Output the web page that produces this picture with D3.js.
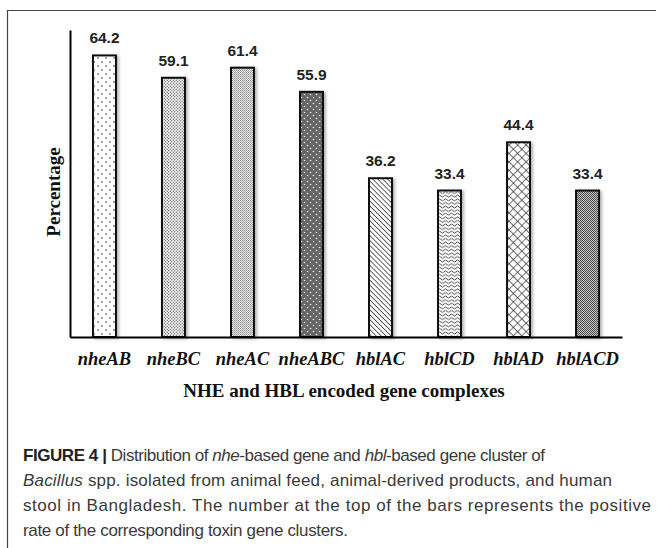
<!DOCTYPE html>
<html>
<head>
<meta charset="utf-8">
<script src="https://cdn.jsdelivr.net/npm/d3@7"></script>
<style>
  body { margin: 0; background: #fff; }
  svg { display: block; }
</style>
</head>
<body>
<div id="chart"></div>
<script>
// gene complexes and their positive rate (%)
const genes = ['nheAB', 'nheBC', 'nheAC', 'nheABC', 'hblAC', 'hblCD', 'hblAD', 'hblACD'];
const rates = [64.2, 59.1, 61.4, 55.9, 36.2, 33.4, 44.4, 33.4];
const yMax = 70;

const xTitle = 'NHE and HBL encoded gene complexes';
const yTitle = 'Percentage';

// caption lines, each a list of [text, style]
const captionLines = [
  [['FIGURE 4 |', 'b'], [' Distribution of ', ''], ['nhe', 'i'], ['-based gene and ', ''], ['hbl', 'i'], ['-based gene cluster of', '']],
  [['Bacillus', 'i'], [' spp. isolated from animal feed, animal-derived products, and human', '']],
  [['stool in Bangladesh. The number at the top of the bars represents the positive', '']],
  [['rate of the corresponding toxin gene clusters.', '']]
];
// how wide each caption line runs in the figure (px)
const captionWidths = [522, 589, 628, 325];

document.addEventListener('DOMContentLoaded', function () {
  const width = 657, height = 548;

  const svg = d3.select('#chart')
    .append('svg')
    .attr('width', width)
    .attr('height', height);

  const defs = svg.append('defs');

  // soft grey shadow behind the bars
  defs.append('filter')
    .attr('id', 'shadow')
    .attr('x', '-30%').attr('y', '-10%')
    .attr('width', '160%').attr('height', '120%')
    .append('feDropShadow')
    .attr('dx', 2).attr('dy', 1)
    .attr('stdDeviation', 1.5)
    .attr('flood-color', '#000')
    .attr('flood-opacity', 0.3);

  ///////////////////////////////PATTERNS
  function pattern(id, w, h, bg, transform) {
    const p = defs.append('pattern')
      .attr('id', id)
      .attr('patternUnits', 'userSpaceOnUse')
      .attr('width', w)
      .attr('height', h);
    if (transform) p.attr('patternTransform', transform);
    p.append('rect').attr('width', w).attr('height', h).attr('fill', bg);
    return p;
  }

  // 1 sparse dots
  let p = pattern('p0', 8, 8, '#fff');
  p.append('circle').attr('cx', 2).attr('cy', 2).attr('r', 0.8).attr('fill', '#333');
  p.append('circle').attr('cx', 6).attr('cy', 6).attr('r', 0.8).attr('fill', '#333');

  // 2 fine dots
  p = pattern('p1', 3, 3, '#fff');
  p.append('circle').attr('cx', 0.75).attr('cy', 0.75).attr('r', 0.65).attr('fill', '#555');
  p.append('circle').attr('cx', 2.25).attr('cy', 2.25).attr('r', 0.65).attr('fill', '#555');

  // 3 very dense dots
  p = pattern('p2', 2, 2, '#e4e4e4');
  p.append('rect').attr('width', 1).attr('height', 1).attr('fill', '#919191');
  p.append('rect').attr('x', 1).attr('y', 1).attr('width', 1).attr('height', 1).attr('fill', '#b0b0b0');

  // 4 dark grey with white dots
  p = pattern('p3', 6, 6, '#666');
  p.append('circle').attr('cx', 1.5).attr('cy', 1.5).attr('r', 0.8).attr('fill', '#eee');
  p.append('circle').attr('cx', 4.5).attr('cy', 4.5).attr('r', 0.8).attr('fill', '#eee');

  // 5 diagonal lines
  p = pattern('p4', 3.5, 3.5, '#fff', 'rotate(-45)');
  p.append('line').attr('x1', 0).attr('y1', 0).attr('x2', 0).attr('y2', 3.5)
    .attr('stroke', '#333').attr('stroke-width', 1.5);

  // 6 waves
  p = pattern('p5', 6, 3.6, '#fff');
  p.append('path').attr('d', 'M0 1.8 Q1.5 0 3 1.8 T6 1.8')
    .attr('fill', 'none').attr('stroke', '#333').attr('stroke-width', 0.9);

  // 7 diamond crosshatch
  p = pattern('p6', 6, 6, '#fff', 'rotate(45)');
  p.append('path').attr('d', 'M0 0 L6 0 M0 0 L0 6')
    .attr('fill', 'none').attr('stroke', '#333').attr('stroke-width', 1.3);

  // 8 fine checks
  p = pattern('p7', 2, 2, '#c4c4c4');
  p.append('rect').attr('width', 1).attr('height', 1).attr('fill', '#4a4a4a');
  p.append('rect').attr('x', 1).attr('y', 1).attr('width', 1).attr('height', 1).attr('fill', '#4a4a4a');

  // outer frame (top and left edges)
  svg.append('path')
    .attr('d', `M7.5 ${height} L7.5 10.5 L656 10.5`)
    .attr('fill', 'none')
    .attr('stroke', '#444')
    .attr('stroke-width', 1.2);

  ///////////////////////////////SCALES
  const x = d3.scaleBand()
    .domain(genes)
    .range([70, 622])
    .paddingInner(0.667)
    .paddingOuter(0.333);

  const y = d3.scaleLinear()
    .domain([0, yMax])
    .range([337, 30]);

  // bars
  svg.selectAll('.bar')
    .data(genes)
    .enter()
    .append('rect')
    .attr('class', 'bar')
    .attr('x', d => x(d))
    .attr('y', (d, i) => y(rates[i]))
    .attr('width', x.bandwidth())
    .attr('height', (d, i) => y(0) - y(rates[i]))
    .attr('fill', (d, i) => `url(#p${i})`)
    .attr('stroke', '#111')
    .attr('stroke-width', 2)
    .attr('filter', 'url(#shadow)');

  // value labels
  svg.selectAll('.value')
    .data(genes)
    .enter()
    .append('text')
    .attr('class', 'value')
    .attr('x', d => x(d) + x.bandwidth() / 2)
    .attr('y', (d, i) => y(rates[i]) - 12)
    .attr('text-anchor', 'middle')
    .style('font-family', '"Liberation Sans", Arial, sans-serif')
    .style('font-weight', 'bold')
    .style('font-size', '15.5px')
    .style('fill', '#222')
    .text((d, i) => rates[i].toFixed(1));

  ///////////////////////////////AXES
  const xAxis = svg.append('g')
    .attr('transform', `translate(0,${y(0)})`)
    .call(d3.axisBottom(x).tickSize(0).tickSizeOuter(0));

  xAxis.select('.domain').attr('stroke', '#000').attr('stroke-width', 2);
  xAxis.selectAll('text')
    .attr('y', 28)
    .attr('dy', 0)
    .style('font-family', '"Liberation Serif", "Times New Roman", serif')
    .style('font-style', 'italic')
    .style('font-weight', 'bold')
    .style('font-size', '18.5px')
    .style('fill', '#111');

  const yAxis = svg.append('g')
    .attr('transform', `translate(${x.range()[0]},0)`)
    .call(d3.axisLeft(y).ticks(0).tickSize(0).tickSizeOuter(0));

  yAxis.select('.domain').attr('stroke', '#000').attr('stroke-width', 2);

  // axis titles
  svg.append('text')
    .attr('x', 344)
    .attr('y', 397)
    .attr('text-anchor', 'middle')
    .style('font-family', '"Liberation Serif", "Times New Roman", serif')
    .style('font-weight', 'bold')
    .style('font-size', '19px')
    .style('fill', '#111')
    .text(xTitle);

  svg.append('text')
    .attr('transform', 'translate(59.5,192) rotate(-90)')
    .attr('text-anchor', 'middle')
    .style('font-family', '"Liberation Serif", "Times New Roman", serif')
    .style('font-weight', 'bold')
    .style('font-size', '19px')
    .style('fill', '#111')
    .text(yTitle);

  ///////////////////////////////CAPTION
  const caption = svg.append('g')
    .style('font-family', '"Liberation Sans", Arial, sans-serif')
    .style('font-size', '17px')
    .style('fill', '#3a3a3a');

  caption.selectAll('text')
    .data(captionLines)
    .enter()
    .append('text')
    .attr('x', 23)
    .attr('y', (d, i) => 461 + i * 25)
    .attr('textLength', (d, i) => captionWidths[i])
    .attr('lengthAdjust', 'spacing')
    .selectAll('tspan')
    .data(d => d)
    .enter()
    .append('tspan')
    .style('font-weight', d => d[1] === 'b' ? 'bold' : 'normal')
    .style('font-style', d => d[1] === 'i' ? 'italic' : 'normal')
    .style('fill', d => d[1] === 'b' ? '#222' : null)
    .text(d => d[0]);
});
</script>
</body>
</html>
